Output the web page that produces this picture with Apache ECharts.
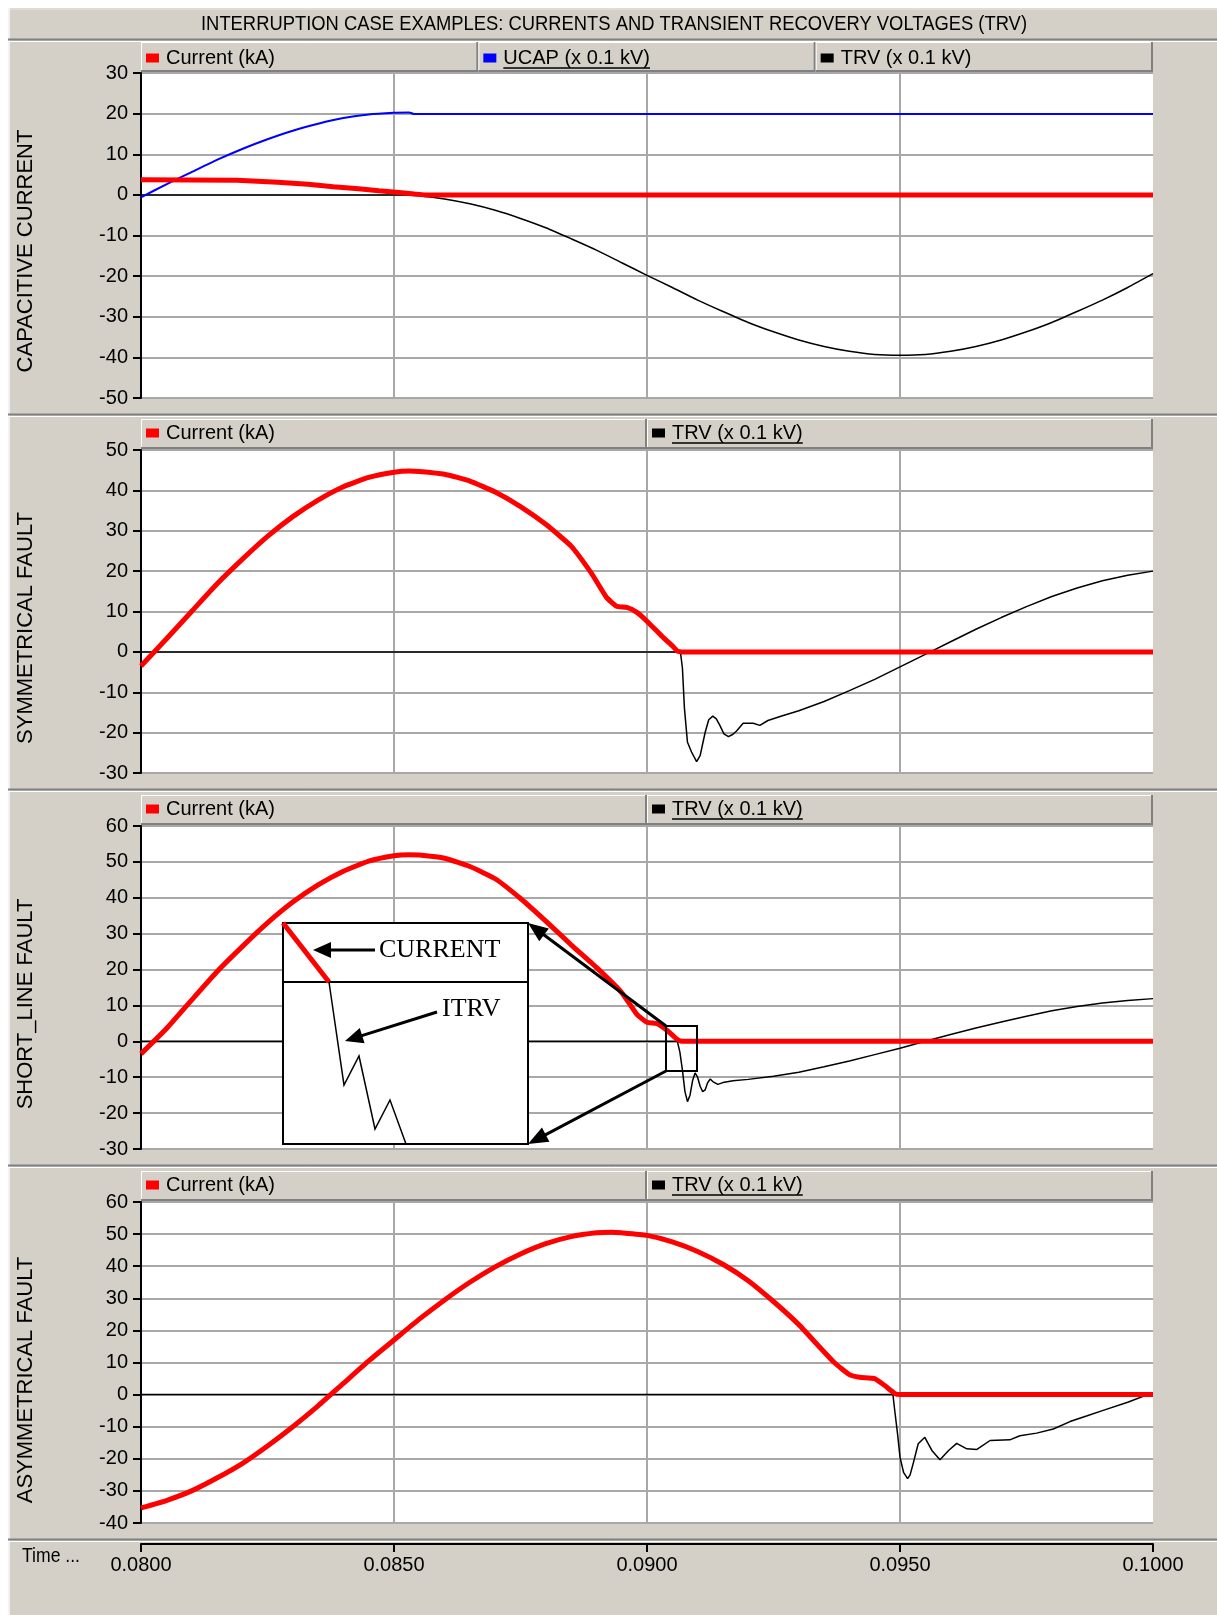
<!DOCTYPE html>
<html><head><meta charset="utf-8">
<script src="https://cdn.jsdelivr.net/npm/echarts@6/dist/echarts.min.js"></script>
<style>html,body{margin:0;padding:0;background:#fff;}#c{width:1217px;height:1615px;}</style>
</head><body><div id="c"></div>
<script>
// ---------------- DATA (time in s, values as plotted) ----------------
const xTicks = [0.0800, 0.0850, 0.0900, 0.0950, 0.1000];
const panelTitles = ['CAPACITIVE CURRENT', 'SYMMETRICAL FAULT', 'SHORT_LINE FAULT', 'ASYMMETRICAL FAULT'];
const yMins = [-50, -30, -30, -40];
const yMaxs = [30, 50, 60, 60];

// Panel 1 : capacitive current
const p1CurT = [0.0800, 0.0819, 0.0827, 0.0833, 0.0838, 0.0843, 0.0847, 0.0851, 0.0854, 0.0856, 0.1000];
const p1CurV = [3.7, 3.6, 3.1, 2.6, 2.0, 1.5, 1.0, 0.6, 0.2, 0.0, 0.0];
const p1UcapT = [0.0800, 0.0805, 0.0810, 0.0815, 0.0820, 0.0825, 0.0830, 0.0835, 0.0840, 0.0845, 0.0850, 0.0853, 0.0854, 0.1000];
const p1UcapV = [-0.6, 2.6, 5.6, 8.6, 11.3, 13.7, 15.8, 17.5, 18.9, 19.8, 20.2, 20.3, 19.9, 19.9];
const p1TrvT = [0.0800, 0.0852, 0.0855, 0.0860, 0.0865, 0.0870, 0.0875, 0.0880, 0.0885, 0.0890, 0.0895, 0.0900,
  0.0905, 0.0910, 0.0915, 0.0920, 0.0925, 0.0930, 0.0935, 0.0940, 0.0945, 0.0950, 0.0955, 0.0960, 0.0965,
  0.0970, 0.0975, 0.0980, 0.0985, 0.0990, 0.0995, 0.1000];
const p1TrvV = [0, 0, -0.2, -1.0, -2.2, -3.8, -5.8, -8.1, -10.8, -13.6, -16.7, -19.8,
  -22.8, -25.9, -28.7, -31.4, -33.7, -35.7, -37.3, -38.5, -39.3, -39.5, -39.3, -38.5, -37.3,
  -35.7, -33.7, -31.4, -28.7, -25.9, -22.8, -19.4];

// Panel 2 : symmetrical fault
const p2CurT = [0.0800, 0.0805, 0.0810, 0.0815, 0.0820, 0.0825, 0.0830, 0.0835, 0.0840, 0.0845, 0.0850, 0.0853,
  0.0855, 0.0860, 0.0865, 0.0870, 0.0875, 0.0880, 0.0885, 0.0889, 0.0892, 0.0894, 0.0896, 0.0898, 0.0900,
  0.0903, 0.0905, 0.0906, 0.0907, 0.1000];
const p2CurV = [-3.5, 3.2, 10.0, 16.8, 22.9, 28.6, 33.5, 37.6, 40.9, 43.2, 44.5, 44.8,
  44.7, 44.0, 42.3, 39.6, 36.0, 31.6, 26.2, 19.5, 13.5, 11.3, 11.0, 9.8, 7.6,
  3.8, 1.5, 0.2, 0.0, 0.0];
const p2TrvT = [0.0800, 0.09066, 0.09070, 0.09074, 0.09080, 0.09088, 0.09098, 0.09105, 0.09115, 0.09122, 0.09130,
  0.09137, 0.09144, 0.09152, 0.09161, 0.09170, 0.09177, 0.09190, 0.09210, 0.09223, 0.09239, 0.09263,
  0.0930, 0.0935, 0.0940, 0.0945, 0.0950, 0.0955, 0.0960, 0.0965, 0.0970, 0.0975, 0.0980, 0.0985,
  0.0990, 0.0995, 0.1000];
const p2TrvV = [0, 0, -4.0, -14.0, -22.4, -24.8, -27.2, -25.7, -19.9, -16.8, -15.9,
  -16.6, -18.2, -20.3, -21.0, -20.4, -19.6, -17.7, -17.7, -18.2, -17.0, -16.0,
  -14.6, -12.3, -9.6, -6.8, -3.7, -0.6, 2.5, 5.6, 8.5, 11.2, 13.7, 15.8,
  17.6, 19.0, 20.0];

// Panel 3 : short-line fault
const p3CurT = [0.0800, 0.0805, 0.0810, 0.0815, 0.0820, 0.0825, 0.0830, 0.0835, 0.0840, 0.0845, 0.0850, 0.0853,
  0.0855, 0.0860, 0.0865, 0.0870, 0.0875, 0.0880, 0.0885, 0.0890, 0.0895, 0.0898, 0.0900, 0.0902, 0.0904,
  0.0906, 0.0907, 0.1000];
const p3CurV = [-3.5, 3.5, 11.5, 19.4, 26.4, 33.0, 38.8, 43.6, 47.4, 50.2, 51.7, 52.0,
  51.9, 51.0, 48.7, 45.3, 39.8, 33.5, 26.9, 20.6, 13.6, 7.5, 5.3, 4.9, 3.0,
  0.5, 0.0, 0.0];
const p3TrvT = [0.0800, 0.0906, 0.09065, 0.0907, 0.09075, 0.0908, 0.09085, 0.0909, 0.09095, 0.0910, 0.09105,
  0.0911, 0.09115, 0.0912, 0.09125, 0.0913, 0.0914, 0.0915, 0.0917, 0.0920, 0.0925, 0.0930, 0.0935,
  0.0940, 0.0945, 0.0950, 0.0955, 0.0960, 0.0965, 0.0970, 0.0975, 0.0980, 0.0985, 0.0990, 0.0995, 0.1000];
const p3TrvV = [0, 0, -3.0, -8.0, -14.0, -16.8, -15.0, -11.0, -8.8, -10.0, -12.5,
  -14.0, -13.5, -11.5, -10.5, -11.2, -12.0, -11.5, -11.0, -10.6, -9.7, -8.6, -7.1,
  -5.5, -3.7, -1.9, 0.0, 1.9, 3.7, 5.4, 7.0, 8.5, 9.7, 10.7, 11.4, 11.9];

// Panel 4 : asymmetrical fault
const p4CurT = [0.0800, 0.0805, 0.0810, 0.0815, 0.0820, 0.0825, 0.0830, 0.0835, 0.0840, 0.0845, 0.0850, 0.0855,
  0.0860, 0.0865, 0.0870, 0.0875, 0.0880, 0.0885, 0.0890, 0.0893, 0.0895, 0.0900, 0.0905, 0.0910, 0.0915,
  0.0920, 0.0925, 0.0930, 0.0934, 0.0937, 0.0940, 0.0942, 0.0945, 0.0947, 0.0949, 0.0950, 0.1000];
const p4CurV = [-35.3, -33.0, -30.0, -26.0, -21.5, -16.0, -10.0, -3.5, 3.5, 10.5, 17.0, 23.5,
  29.5, 35.0, 39.8, 43.8, 47.0, 49.2, 50.4, 50.6, 50.4, 49.6, 47.6, 44.6, 40.6,
  35.5, 29.0, 21.8, 15.0, 10.0, 6.2, 5.4, 5.0, 2.8, 0.3, 0.0, 0.0];
const p4TrvT = [0.0800, 0.09486, 0.0949, 0.09495, 0.0950, 0.09507, 0.09515, 0.0952, 0.09526, 0.09536, 0.09549,
  0.09563, 0.09579, 0.09596, 0.09612, 0.09632, 0.09652, 0.09678, 0.09717, 0.09737, 0.0977, 0.09803,
  0.09836, 0.0987, 0.0990, 0.0995, 0.1000];
const p4TrvV = [0, 0, -5.5, -12.0, -19.5, -24.2, -26.2, -25.0, -21.5, -15.3, -13.3,
  -17.4, -20.3, -17.4, -15.2, -16.9, -17.1, -14.3, -14.1, -12.8, -12.0, -10.7,
  -8.4, -6.6, -5.0, -2.4, 0.6];

const NAME_CUR = 'Current (kA)';
const NAME_UCAP = 'UCAP (x 0.1 kV)';
const NAME_TRV = 'TRV (x 0.1 kV)';

// ---------------- LAYOUT / STYLE ----------------
const FONT = '"Liberation Sans", Arial, sans-serif';
const SERIF = '"Liberation Serif", "Times New Roman", serif';
const GRAY = '#d4d0c8', DARK = '#808080', GRID = '#a8a8a8';
const L = 141, W = 1012;
const plotTop = [73, 450, 826, 1202];
const plotH = [325, 323, 323, 321];
const legendCtr = [58, 433, 809, 1185];
const zip = (t, v) => t.map((x, i) => [x, v[i]]);

const panelSeries = [
  [{ n: NAME_TRV, t: p1TrvT, v: p1TrvV, c: '#000', w: 1.5, s: 0.2 },
   { n: NAME_UCAP, t: p1UcapT, v: p1UcapV, c: '#0000ff', w: 2, s: 0.2 },
   { n: NAME_CUR, t: p1CurT, v: p1CurV, c: '#ff0000', w: 5, s: 0 }],
  [{ n: NAME_TRV, t: p2TrvT, v: p2TrvV, c: '#000', w: 1.5, s: 0 },
   { n: NAME_CUR, t: p2CurT, v: p2CurV, c: '#ff0000', w: 5, s: 0.15 }],
  [{ n: NAME_TRV, t: p3TrvT, v: p3TrvV, c: '#000', w: 1.5, s: 0 },
   { n: NAME_CUR, t: p3CurT, v: p3CurV, c: '#ff0000', w: 5, s: 0.15 }],
  [{ n: NAME_TRV, t: p4TrvT, v: p4TrvV, c: '#000', w: 1.5, s: 0 },
   { n: NAME_CUR, t: p4CurT, v: p4CurV, c: '#ff0000', w: 5, s: 0.15 }]
];
const legendOrder = [
  [NAME_CUR, NAME_UCAP, NAME_TRV],
  [NAME_CUR, NAME_TRV], [NAME_CUR, NAME_TRV], [NAME_CUR, NAME_TRV]
];
const underlined = [[NAME_UCAP], [NAME_TRV], [NAME_TRV], [NAME_TRV]];

const mctx = document.createElement('canvas').getContext('2d');
function tw(text, font) { mctx.font = font; return mctx.measureText(text).width; }

const grids = [], xAxes = [], yAxes = [], series = [], legends = [], gfx = [];

// frame
gfx.push({ type: 'rect', z: -10, shape: { x: 0, y: 0, width: 1217, height: 8 }, style: { fill: '#fff' } });
gfx.push({ type: 'rect', z: -10, shape: { x: 0, y: 0, width: 8, height: 1615 }, style: { fill: '#fff' } });
gfx.push({ type: 'line', z: -5, shape: { x1: 8, y1: 9, x2: 1217, y2: 9 }, style: { stroke: '#e8e8e8', lineWidth: 1 } });
gfx.push({ type: 'line', z: -5, shape: { x1: 9, y1: 8, x2: 9, y2: 1615 }, style: { stroke: '#f2f2f2', lineWidth: 2 } });
gfx.push({ type: 'line', z: -5, shape: { x1: 8, y1: 39.5, x2: 1217, y2: 39.5 }, style: { stroke: DARK, lineWidth: 2 } });
gfx.push({ type: 'line', z: -5, shape: { x1: 8, y1: 41.5, x2: 1217, y2: 41.5 }, style: { stroke: '#fff', lineWidth: 1 } });

const titleText = 'INTERRUPTION CASE EXAMPLES: CURRENTS AND TRANSIENT RECOVERY VOLTAGES (TRV)';
const titleFont = '21px ' + FONT;
gfx.push({ type: 'text', x: 614, y: 24, scaleX: 826 / tw(titleText, titleFont),
  style: { text: titleText, x: 0, y: 0, font: titleFont, fill: '#000', textAlign: 'center', textVerticalAlign: 'middle' } });

for (let i = 0; i < 4; i++) {
  const top = plotTop[i], bottom = plotTop[i] + plotH[i];
  grids.push({ left: L, top: top, width: W, height: plotH[i], show: true, backgroundColor: '#fff', borderWidth: 0 });
  xAxes.push({ type: 'value', gridIndex: i, min: xTicks[0], max: xTicks[xTicks.length - 1], interval: 0.005,
    axisLine: { show: false }, axisTick: { show: false }, axisLabel: { show: false },
    splitLine: { show: true, showMinLine: false, showMaxLine: false, lineStyle: { color: GRID, width: 2 } } });
  yAxes.push({ type: 'value', gridIndex: i, min: yMins[i], max: yMaxs[i], interval: 10,
    axisLine: { show: true, onZero: false, lineStyle: { color: '#000', width: 2 } },
    axisTick: { show: true, length: 8, lineStyle: { color: '#000', width: 2 } },
    axisLabel: { fontSize: 20, color: '#000', fontFamily: FONT, margin: 13 },
    splitLine: { show: true, lineStyle: { color: GRID, width: 2 } } });
  panelSeries[i].forEach(s => series.push({
    type: 'line', name: s.n, xAxisIndex: i, yAxisIndex: i, data: zip(s.t, s.v),
    showSymbol: false, symbol: 'none', silent: true, animation: false, smooth: s.s,
    lineStyle: { color: s.c, width: s.w }, itemStyle: { color: s.c }
  }));

  // separator under panel
  const sep = bottom + 16;
  gfx.push({ type: 'line', z: -5, shape: { x1: 8, y1: sep + 0.5, x2: 1217, y2: sep + 0.5 }, style: { stroke: DARK, lineWidth: 2 } });
  gfx.push({ type: 'line', z: -5, shape: { x1: 8, y1: sep + 2.5, x2: 1217, y2: sep + 2.5 }, style: { stroke: '#fff', lineWidth: 1 } });

  // axis title (rotated)
  gfx.push({ type: 'text', x: 26, y: top + 178, rotation: Math.PI / 2,
    style: { text: panelTitles[i], x: 0, y: 0, font: '22px ' + FONT, fill: '#000', textAlign: 'center', textVerticalAlign: 'middle' } });

  // legend cells
  const names = legendOrder[i];
  const cw = W / names.length;
  const lt = top - 31, lb = top - 1;
  names.forEach((nm, k) => {
    const x0 = L + k * cw, x1 = L + (k + 1) * cw;
    gfx.push({ type: 'line', shape: { x1: x0, y1: lt + 0.5, x2: x1, y2: lt + 0.5 }, style: { stroke: '#fff', lineWidth: 1 } });
    gfx.push({ type: 'line', shape: { x1: x0 + 0.5, y1: lt, x2: x0 + 0.5, y2: lb }, style: { stroke: '#fff', lineWidth: 1 } });
    gfx.push({ type: 'line', shape: { x1: x1 - 1, y1: lt, x2: x1 - 1, y2: lb }, style: { stroke: DARK, lineWidth: 2 } });
    gfx.push({ type: 'line', shape: { x1: x0, y1: lb - 1, x2: x1, y2: lb - 1 }, style: { stroke: DARK, lineWidth: 2 } });
    const ctrY = legendCtr[i];
    legends.push({ left: x0 + 5, top: ctrY - 11, padding: 0, data: [nm], icon: 'rect', itemWidth: 13, itemHeight: 9,
      selectedMode: false, textStyle: { fontSize: 20, fontFamily: FONT, color: '#000', lineHeight: 22, padding: [0, 0, 0, 2] } });
    if (underlined[i].indexOf(nm) >= 0) {
      const tx = x0 + 5 + 13 + 5 + 2;
      const w = tw(nm, '20px ' + FONT);
      gfx.push({ type: 'line', shape: { x1: tx, y1: ctrY + 10, x2: tx + w, y2: ctrY + 10 }, style: { stroke: '#000', lineWidth: 1.5 } });
    }
  });
}

// time axis (separate grid at bottom)
grids.push({ left: L, top: 1543, width: W, height: 1, show: false });
xAxes.push({ type: 'value', gridIndex: 4, min: xTicks[0], max: xTicks[xTicks.length - 1], interval: 0.005,
  axisLine: { show: true, onZero: false, lineStyle: { color: '#000', width: 2 } },
  axisTick: { show: true, length: 8, lineStyle: { color: '#000', width: 2 } },
  axisLabel: { fontSize: 20, color: '#000', fontFamily: FONT, margin: 11, formatter: v => v.toFixed(4) },
  splitLine: { show: false } });
yAxes.push({ type: 'value', gridIndex: 4, show: false });
const timeFont = '20px ' + FONT;
gfx.push({ type: 'text', x: 22, y: 1556, scaleX: 58 / tw('Time ...', timeFont),
  style: { text: 'Time ...', x: 0, y: 0, font: timeFont, fill: '#000', textAlign: 'left', textVerticalAlign: 'middle' } });

// ---------------- zoom annotation on SHORT_LINE FAULT panel ----------------
function arrow(x1, y1, x2, y2, lw, hl, hw) {
  const dx = x2 - x1, dy = y2 - y1, len = Math.hypot(dx, dy);
  const ux = dx / len, uy = dy / len, px = -uy, py = ux;
  const bx = x2 - ux * hl, by = y2 - uy * hl;
  gfx.push({ type: 'line', z: 101, shape: { x1: x1, y1: y1, x2: bx + ux * 2, y2: by + uy * 2 }, style: { stroke: '#000', lineWidth: lw } });
  gfx.push({ type: 'polygon', z: 101, shape: { points: [[x2, y2], [bx + px * hw, by + py * hw], [bx - px * hw, by - py * hw]] }, style: { fill: '#000' } });
}
const ZB = { x0: 283, y0: 923, x1: 528, y1: 1144, div: 982 };
gfx.push({ type: 'rect', z: 100, shape: { x: ZB.x0, y: ZB.y0, width: ZB.x1 - ZB.x0, height: ZB.y1 - ZB.y0 }, style: { fill: '#fff', stroke: '#000', lineWidth: 2 } });
gfx.push({ type: 'line', z: 101, shape: { x1: ZB.x0, y1: ZB.div, x2: ZB.x1, y2: ZB.div }, style: { stroke: '#000', lineWidth: 2 } });
gfx.push({ type: 'line', z: 102, shape: { x1: ZB.x0, y1: ZB.y0, x2: 329, y2: ZB.div }, style: { stroke: '#ff0000', lineWidth: 5 } });
gfx.push({ type: 'polyline', z: 101, shape: { points: [[329, 982], [344, 1085], [359, 1056], [375, 1129], [390, 1100], [406, 1144]] }, style: { stroke: '#000', lineWidth: 1.5, fill: null } });
gfx.push({ type: 'text', z: 101, style: { text: 'CURRENT', x: 379, y: 950, font: '26px ' + SERIF, fill: '#000', textAlign: 'left', textVerticalAlign: 'middle' } });
gfx.push({ type: 'text', z: 101, style: { text: 'ITRV', x: 442, y: 1009, font: '26px ' + SERIF, fill: '#000', textAlign: 'left', textVerticalAlign: 'middle' } });
arrow(375, 950, 313, 950, 3, 18, 8);
arrow(437, 1012, 345, 1041, 3, 18, 8);
gfx.push({ type: 'rect', z: 101, shape: { x: 666, y: 1026, width: 31, height: 45 }, style: { fill: null, stroke: '#000', lineWidth: 2 } });
arrow(666, 1026, 528, 923, 3, 20, 8);
arrow(666, 1071, 528, 1144, 3, 20, 8);

const chart = echarts.init(document.getElementById('c'), null, { renderer: 'canvas', width: 1217, height: 1615 });
chart.setOption({
  backgroundColor: GRAY,
  animation: false,
  grid: grids, xAxis: xAxes, yAxis: yAxes, series: series, legend: legends, graphic: { elements: gfx }
});
</script></body></html>
